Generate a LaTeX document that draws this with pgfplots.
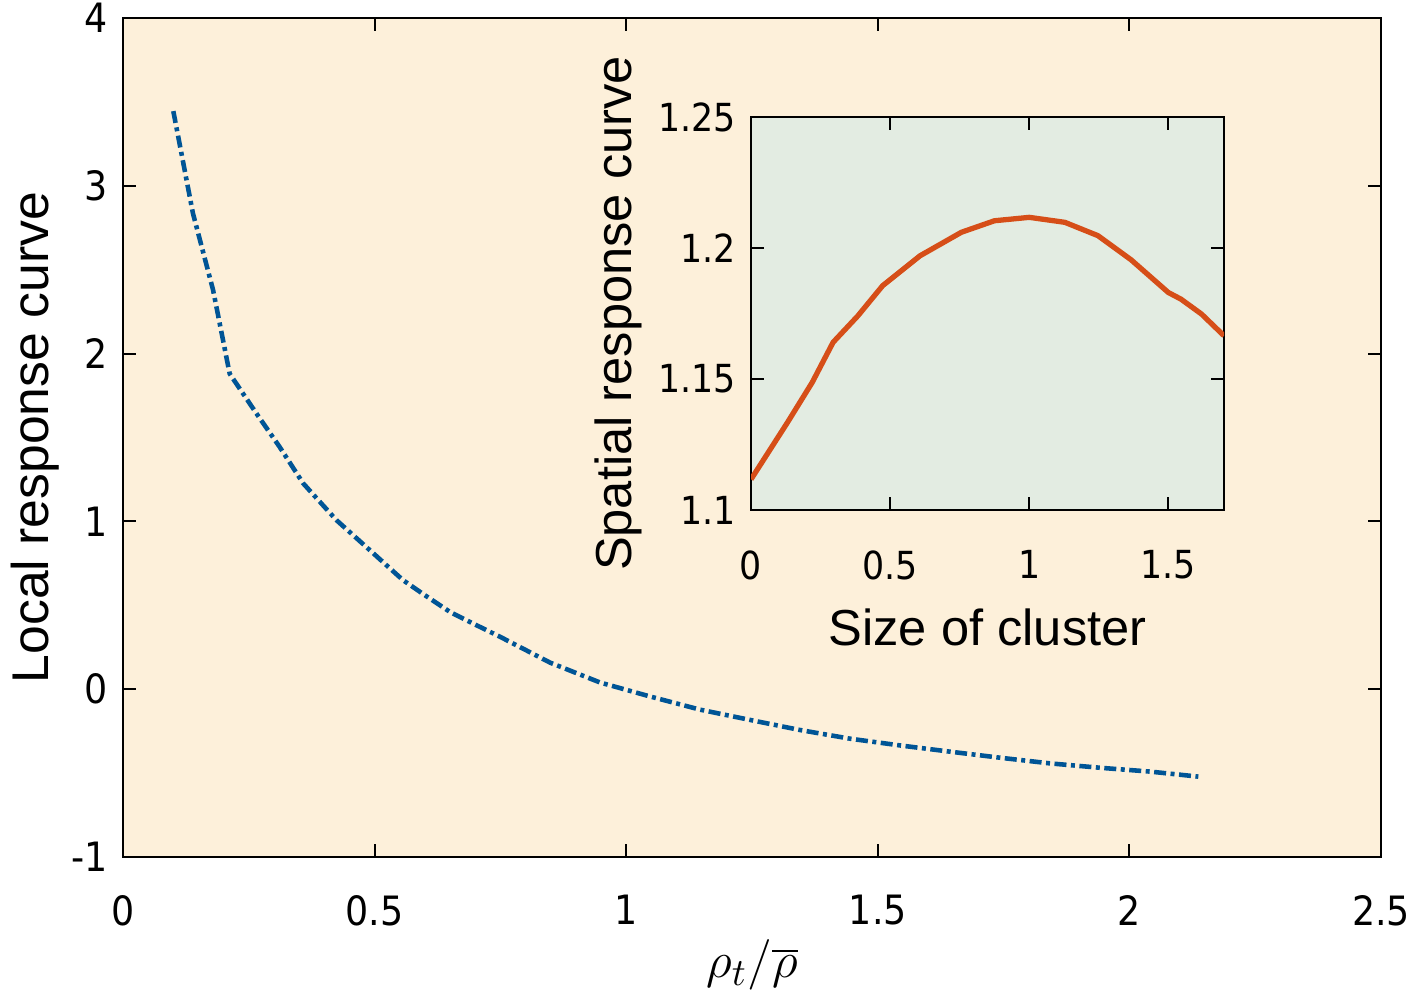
\documentclass[border=0pt]{standalone}
\usepackage{pgfplots}
\pgfplotsset{compat=1.18}
\usepackage{fontspec}
\setmainfont{Liberation Sans}
\newfontfamily\tickfont{DejaVu Sans Condensed}
\definecolor{mainbg}{RGB}{253,240,218}
\definecolor{insetbg}{RGB}{227,236,226}
\definecolor{curveblue}{RGB}{0,85,150}
\definecolor{curvered}{RGB}{214,78,24}
\begin{document}
\begin{tikzpicture}
\useasboundingbox (-12.3mm,-13.6mm) rectangle (130.1mm,85.7mm);
\begin{axis}[
  name=main,
  at={(0,0)}, anchor=south west,
  scale only axis,
  width=125.8mm, height=83.9mm,
  xmin=0, xmax=2.5, ymin=-1, ymax=4,
  axis background/.style={fill=mainbg},
  axis line style={line width=0.6pt, black},
  tick style={line width=0.6pt, black},
  tick align=inside,
  major tick length=1.3mm,
  xtick={0,0.5,1,1.5,2,2.5},
  xticklabels={0,0.5,1,1.5,2,2.5},
  ytick={-1,0,1,2,3,4},
  yticklabels={-1,0,1,2,3,4},
  ticklabel style={font=\tickfont\fontsize{11.5}{13}\selectfont},
  xticklabel style={yshift=-2.6mm},
  yticklabel style={xshift=-0.3mm},
  xlabel={$\rho_t/\overline{\rho}$},
  ylabel={Local response curve},
  xlabel style={at={(axis description cs:0.5,-0.1287)}, anchor=center, font=\fontsize{15.5}{18}\selectfont},
  ylabel style={at={(axis description cs:-0.070,0.5)}, anchor=center, font=\fontsize{14.7}{17}\selectfont},
]
\addplot[curveblue, line width=1.3pt, dash pattern=on 1.2mm off 0.45mm on 0.4mm off 0.45mm] coordinates {
(0.100,3.445) (0.139,2.836) (0.179,2.379) (0.212,1.880) (0.265,1.644)
(0.311,1.445) (0.358,1.227) (0.424,1.008) (0.490,0.830) (0.556,0.651)
(0.600,0.560) (0.650,0.460) (0.700,0.385) (0.749,0.313) (0.849,0.158)
(0.948,0.040) (1.047,-0.043) (1.147,-0.122) (1.246,-0.183) (1.345,-0.243)
(1.445,-0.295) (1.544,-0.335) (1.643,-0.372) (1.742,-0.408) (1.842,-0.442)
(1.941,-0.468) (2.041,-0.491) (2.137,-0.521)
};
\end{axis}
\begin{axis}[
  at={(62.8mm,34.7mm)}, anchor=south west,
  scale only axis,
  width=47.3mm, height=39.3mm,
  xmin=0, xmax=1.7, ymin=1.1, ymax=1.25,
  axis background/.style={fill=insetbg},
  axis line style={line width=0.6pt, black},
  tick style={line width=0.6pt, black},
  tick align=inside,
  major tick length=1.3mm,
  xtick={0,0.5,1,1.5},
  xticklabels={0,0.5,1,1.5},
  ytick={1.1,1.15,1.2,1.25},
  yticklabels={1.1,1.15,1.2,1.25},
  ticklabel style={font=\tickfont\fontsize{11}{13}\selectfont},
  xticklabel style={yshift=-2.8mm},
  yticklabel style={xshift=-0.3mm},
  xlabel={Size of cluster},
  ylabel={Spatial response curve},
  xlabel style={at={(axis description cs:0.5,-0.300)}, anchor=center, font=\fontsize{14.4}{17}\selectfont},
  ylabel style={at={(axis description cs:-0.281,0.5)}, anchor=center, font=\fontsize{14.4}{17}\selectfont},
]
\addplot[curvered, line width=1.5pt, line join=round] coordinates {
(0.000,1.1117) (0.131,1.1334) (0.220,1.1487) (0.295,1.1640) (0.384,1.1741)
(0.473,1.1856) (0.607,1.1970) (0.756,1.2060) (0.875,1.2104) (1.000,1.2117)
(1.128,1.2098) (1.247,1.2047) (1.366,1.1955) (1.500,1.1830) (1.545,1.1805)
(1.619,1.1748) (1.700,1.1665)
};
\end{axis}
\end{tikzpicture}
\end{document}
